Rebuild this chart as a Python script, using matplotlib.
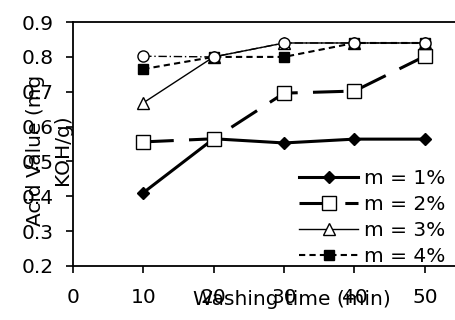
import matplotlib
matplotlib.use("Agg")
from matplotlib import pyplot as plt

times = [10, 20, 30, 40, 50]
m1 = [0.41, 0.565, 0.553, 0.564, 0.564]
m2 = [0.556, 0.565, 0.696, 0.702, 0.802]
m3 = [0.668, 0.80, 0.84, 0.84, 0.84]
m4 = [0.765, 0.80, 0.80, 0.84, 0.84]
m5 = [0.802, 0.80, 0.84, 0.84, 0.84]

plt.rcParams["font.family"] = "DejaVu Sans"
fs = 14.5
fig = plt.figure(figsize=(4.55, 3.2), dpi=100)
ax = fig.add_axes([0.16, 0.169, 0.845, 0.762])

ax.plot(times, m5, c="black", lw=1, ls=(0, (6, 2, 1, 2)), marker="o", ms=8,
        mfc="white", mec="black", zorder=3)
ax.plot(times, m1, c="black", lw=2.2, marker="D", ms=6, mfc="black", label="m = 1%")
ax.plot(times, m2, c="black", lw=2.2, ls=(0, (10, 5)), marker="s", ms=9.5,
        mfc="white", mec="black", mew=1, label="m = 2%")
ax.plot(times, m3, c="black", lw=1, marker="^", ms=9, mfc="white", mec="black",
        label="m = 3%")
ax.plot(times, m4, c="black", lw=1.5, ls=(0, (3, 2)), marker="s", ms=6.5,
        mfc="black", label="m = 4%")

ax.set_xlim(0, 54.6)
ax.set_ylim(0.2, 0.9)
ax.set_xticks([0, 10, 20, 30, 40, 50])
ax.set_yticks([0.2, 0.3, 0.4, 0.5, 0.6, 0.7, 0.8, 0.9])
ax.set_yticklabels(["0.2", "0.3", "0.4", "0.5", "0.6", "0.7", "0.8", "0.9"])
ax.tick_params(axis="both", which="major", labelsize=fs, direction="out",
               length=5, width=1.2)
ax.tick_params(axis="x", pad=11)
ax.tick_params(axis="y", pad=9)
ax.spines["right"].set_visible(False)
for s in ["left", "bottom", "top"]:
    ax.spines[s].set_linewidth(1.3)

ax.set_xlabel("Washing time (min)", fontsize=fs)
ax.xaxis.set_label_coords(0.57, -0.1)
ax.set_ylabel("Acid Value (mg\nKOH/g)", fontsize=fs, linespacing=1.5)
ax.yaxis.set_label_coords(-0.003, 0.475)

ax.legend(loc="lower right", bbox_to_anchor=(1.0, -0.05), frameon=False,
          fontsize=fs, handlelength=2.9, handletextpad=0.3, labelspacing=0.35,
          borderaxespad=0.2)

fig.savefig("out.png", dpi=100)
